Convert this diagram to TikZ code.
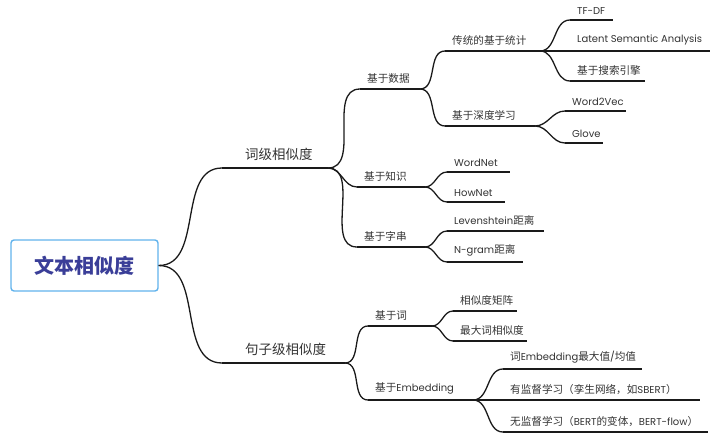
\documentclass[tikz,border=0pt]{standalone}
\usepackage{fontspec}
\setmainfont{Poppins}
\newfontfamily\cjk{Noto Sans CJK SC}[Scale=1.06]
\usepackage{xcolor}
\usetikzlibrary{positioning}
\definecolor{ink}     {HTML}{333333}
\definecolor{wire}    {HTML}{1A1A1A}
\definecolor{rootline}{HTML}{62B3EC}
\definecolor{rootink} {HTML}{3A3E98}

\begin{document}
\begin{tikzpicture}[x=1pt, y=-1pt,
  conn/.style={draw=wire, line width=1.3pt},
  root/.style={rectangle, rounded corners=3pt, draw=rootline, fill=white, line width=1.4pt,
               minimum width=147pt, minimum height=51pt, text=rootink,
               font=\fontsize{18.9}{22}\selectfont\cjk\bfseries},
  topic/.style={anchor=south west, inner xsep=23pt, inner ysep=7pt, text=ink,
                font=\fontsize{12.7}{15}\selectfont},
  leaf/.style={anchor=south west, inner xsep=7pt, inner ysep=5.5pt, text=ink,
               font=\fontsize{10}{12}\selectfont}
]
\useasboundingbox (0,0) rectangle (720,439);
\node[root] (doc) at (84.5,265.5) {文本相似度};
% level 1
\node[topic] (wordsim) at (222,168) {\cjk 词级相似度};
\node[topic] (sentsim) at (222,363) {\cjk 句子级相似度};
% level 2
\node[leaf] (data)  at (360,89)  {\cjk 基于数据};
\node[leaf] (know)  at (357,187) {\cjk 基于知识};
\node[leaf] (chars) at (357,247) {\cjk 基于字串};
\node[leaf] (sword) at (368,326) {\cjk 基于词};
\node[leaf] (semb)  at (368,400) {{\cjk 基于}Embedding};
% level 3
\node[leaf] (stat)    at (445,51)  {\cjk 传统的基于统计};
\node[leaf] (deep)    at (445,126) {\cjk 基于深度学习};
\node[leaf] (wordnet) at (447,172) {WordNet};
\node[leaf] (hownet)  at (447,202) {HowNet};
\node[leaf] (leven)   at (447,231) {Levenshtein{\cjk 距离}};
\node[leaf] (ngram)   at (447,262) {N-gram{\cjk 距离}};
\node[leaf] (simmat)  at (453,311) {\cjk 相似度矩阵};
\node[leaf] (maxsim)  at (453,341) {\cjk 最大词相似度};
\node[leaf] (embmax)  at (503,369) {{\cjk 词}Embedding{\cjk 最大值}/{\cjk 均值}};
\node[leaf] (supv)    at (503,400) {{\cjk 有监督学习（孪生网络，如}SBERT{\cjk ）}};
\node[leaf] (unsupv)  at (503,432) {{\cjk 无监督学习（}BERT{\cjk 的变体，}BERT-flow{\cjk ）}};
% level 4
\node[leaf] (tfdf)   at (570,20)  {TF-DF};
\node[leaf] (lsa)    at (570,51)  {Latent Semantic Analysis};
\node[leaf] (search) at (570,81)  {\cjk 基于搜索引擎};
\node[leaf] (wtv)    at (565,111) {Word2Vec};
\node[leaf] (glove)  at (565,143) {Glove};
% underlines, with their lengths
\foreach \n/\l in {wordsim/106,sentsim/123,data/60,know/68,chars/68,sword/64,semb/105,
                   stat/95,deep/90,wordnet/63,hownet/58,leven/97,ngram/76,simmat/64,
                   maxsim/74,embmax/139,supv/197,unsupv/205,tfdf/43,lsa/140,search/75,
                   wtv/61,glove/38}
  {\draw[conn] (\n.south west) -- ++(\l,0) coordinate (\n-end);}
% branches
\draw[conn] (doc.east) to[out=0, in=180] (wordsim.south west);
\draw[conn] (doc.east) to[out=0, in=180] (sentsim.south west);
\foreach \p/\c in {wordsim/data,wordsim/know,wordsim/chars,sentsim/sword,sentsim/semb,
                   data/stat,data/deep,know/wordnet,know/hownet,chars/leven,chars/ngram,
                   sword/simmat,sword/maxsim,semb/embmax,semb/supv,semb/unsupv,
                   stat/tfdf,stat/lsa,stat/search,deep/wtv,deep/glove}
  {\draw[conn] (\p-end) to[out=0, in=180] (\c.south west);}
\end{tikzpicture}
\end{document}
